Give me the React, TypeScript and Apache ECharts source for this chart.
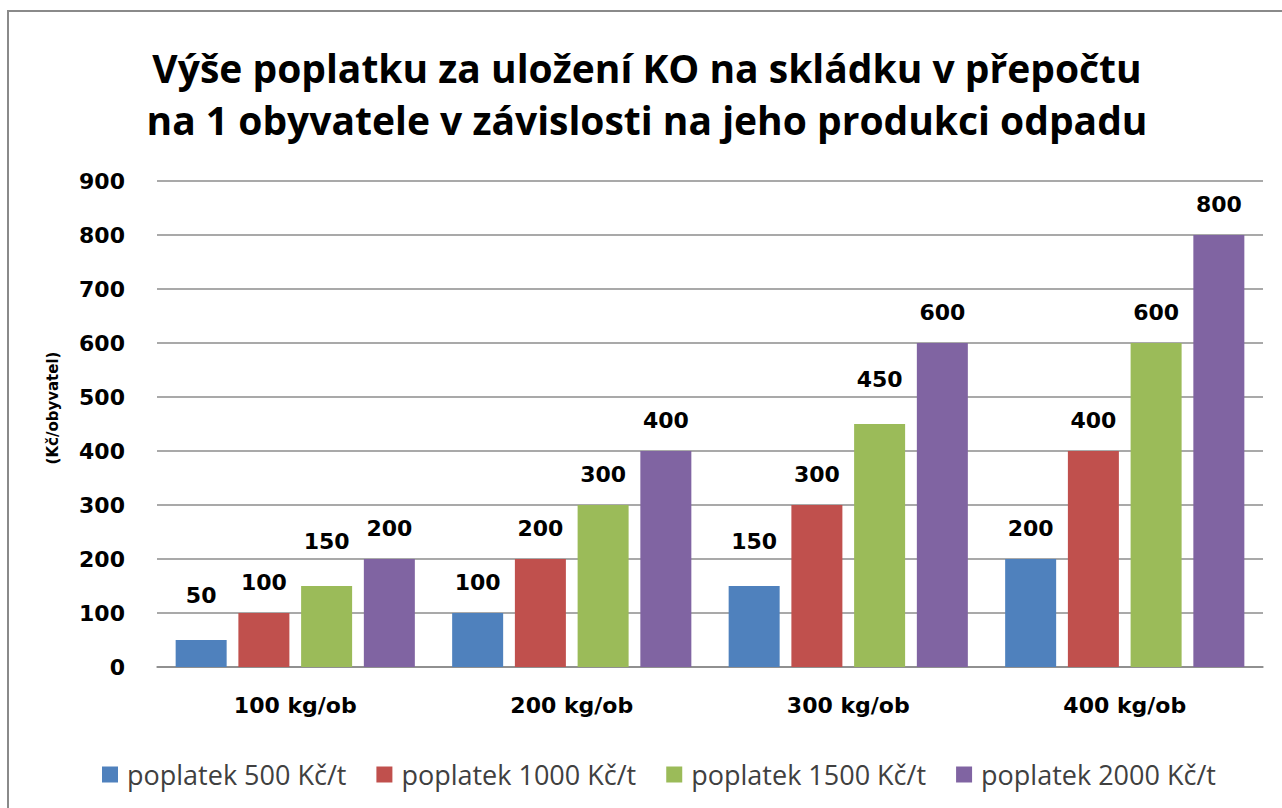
import React, { useEffect, useRef } from "react";
import * as echarts from "echarts";

const titleLines = [
  "Výše poplatku za uložení KO na skládku v přepočtu",
  "na 1 obyvatele v závislosti na jeho produkci odpadu",
];
const categories = ["100 kg/ob", "200 kg/ob", "300 kg/ob", "400 kg/ob"];
const seriesNames = [
  "poplatek 500 Kč/t",
  "poplatek 1000 Kč/t",
  "poplatek 1500 Kč/t",
  "poplatek 2000 Kč/t",
];
const fee500 = [50, 100, 150, 200];
const fee1000 = [100, 200, 300, 400];
const fee1500 = [150, 300, 450, 600];
const fee2000 = [200, 400, 600, 800];
const yAxisName = "(Kč/obyvatel)";
const yMin = 0;
const yMax = 900;
const yStep = 100;

const colors = ["#4F81BD", "#C0504D", "#9BBB59", "#8064A2"];
const seriesData = [fee500, fee1000, fee1500, fee2000];

const boldFont = "'DejaVu Sans', Verdana, sans-serif";
const textFont = "'Open Sans', 'Noto Sans', sans-serif";

export default function App() {
  const ref = useRef<HTMLDivElement>(null);

  useEffect(() => {
    document.body.style.margin = "0";
    document.body.style.overflow = "hidden";
    const chart = echarts.init(ref.current!, undefined, { renderer: "svg" });
    const labelStyle = {
      fontFamily: boldFont,
      fontWeight: "bold",
      fontSize: 22,
      color: "#000000",
    };
    chart.setOption({
      animation: false,
      backgroundColor: "#ffffff",
      color: colors,
      title: {
        text: titleLines.join("\n"),
        left: 642,
        top: 36,
        textAlign: "center",
        textStyle: {
          fontFamily: textFont,
          fontWeight: "bold",
          fontSize: 39,
          lineHeight: 52,
          color: "#000000",
        },
      },
      legend: {
        left: 97,
        top: 756,
        icon: "rect",
        itemWidth: 16,
        itemHeight: 16,
        itemGap: 30,
        data: seriesNames,
        textStyle: {
          fontFamily: textFont,
          fontSize: 27,
          color: "#404040",
          padding: [0, 0, 0, 4],
        },
      },
      grid: { left: 157, right: 19, top: 181, bottom: 141, containLabel: false },
      xAxis: {
        type: "category",
        data: categories,
        axisLine: { lineStyle: { color: "#888888", width: 1.5 } },
        axisTick: { show: false },
        axisLabel: { margin: 27, ...labelStyle },
      },
      yAxis: {
        type: "value",
        min: yMin,
        max: yMax,
        interval: yStep,
        name: yAxisName,
        nameLocation: "middle",
        nameRotate: 90,
        nameGap: 97,
        nameTextStyle: {
          fontFamily: boldFont,
          fontWeight: "bold",
          fontSize: 15,
          color: "#000000",
          padding: [0, 0, 0, 32],
        },
        axisLine: { show: false },
        axisTick: { show: false },
        splitLine: { lineStyle: { color: "#8c8c8c", width: 1.5 } },
        axisLabel: { margin: 32, ...labelStyle },
      },
      series: seriesNames.map((name, i) => ({
        name,
        type: "bar",
        data: seriesData[i].map((v) => ({
          value: v,
          label: { distance: v % 100 === 50 ? 34 : 20 },
        })),
        barWidth: 51,
        barGap: "23%",
        itemStyle: { color: colors[i] },
        label: {
          show: true,
          position: "top",
          distance: 20,
          ...labelStyle,
        },
      })),
    });
    return () => chart.dispose();
  }, []);

  return (
    <div
      style={{
        position: "absolute",
        left: 0,
        top: 0,
        width: 1282,
        height: 808,
        overflow: "hidden",
        background: "#ffffff",
      }}
    >
      <div ref={ref} style={{ position: "absolute", left: 0, top: 0, width: 1282, height: 808 }} />
      <div
        style={{
          position: "absolute",
          left: 7,
          top: 10,
          width: 1400,
          height: 900,
          borderLeft: "2px solid #8a8a8a",
          borderTop: "2px solid #8a8a8a",
          pointerEvents: "none",
        }}
      />
    </div>
  );
}
